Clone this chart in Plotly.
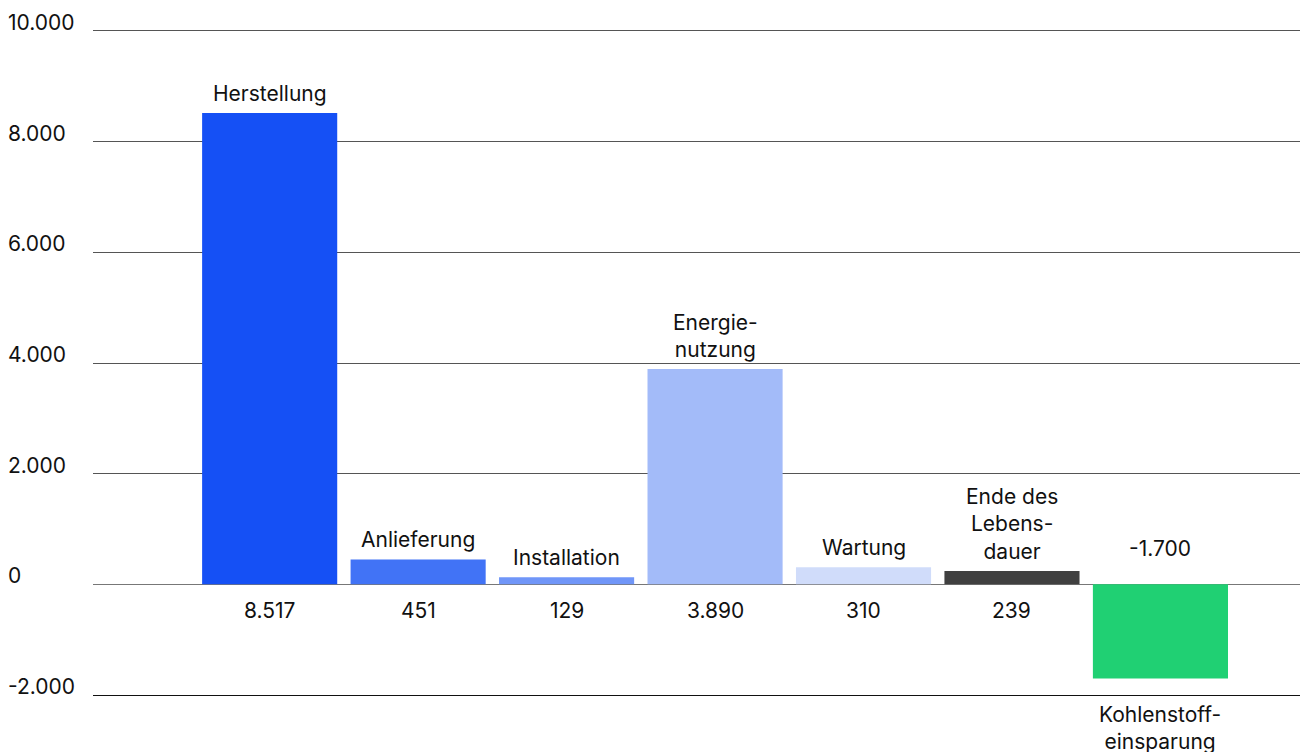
import plotly.graph_objects as go

categories = ["Herstellung", "Anlieferung", "Installation", "Energie-<br>nutzung",
              "Wartung", "Ende des<br>Lebens-<br>dauer", "Kohlenstoff-<br>einsparung"]
values = [8517, 451, 129, 3890, 310, 239, -1700]
colors = ["#1550F5", "#4173F6", "#7096F8", "#A3BBF9", "#D0DCFA", "#404040", "#20D073"]
tick_vals = [-2000, 0, 2000, 4000, 6000, 8000, 10000]
tick_labels = ["-2.000", "0", "2.000", "4.000", "6.000", "8.000", "10.000"]

FONT = "Inter"
FS = 21

def de(n):
    return f"{n:,}".replace(",", ".")

x = list(range(len(categories)))
fig = go.Figure(go.Bar(x=x, y=values, marker=dict(color=colors, line=dict(width=0)),
                       width=0.91, hoverinfo="skip"))

ann = []
for i, (c, v) in enumerate(zip(categories, values)):
    if v >= 0:
        ann.append(dict(x=i, y=v, text=c, showarrow=False, yanchor="bottom", yshift=5))
        ann.append(dict(x=i, y=0, text=de(v), showarrow=False, yanchor="top", yshift=-12))
    else:
        ann.append(dict(x=i, y=v, text=c, showarrow=False, yanchor="top", yshift=-22))
        ann.append(dict(x=i, y=0, text=de(v), showarrow=False, yanchor="bottom", yshift=21))
for tv, tl in zip(tick_vals, tick_labels):
    ann.append(dict(xref="paper", x=-87 / 1207, y=tv, text=tl, showarrow=False,
                    xanchor="left", yanchor="bottom", yshift=-6))
for a in ann:
    a.setdefault("font", dict(family=FONT, size=FS, color="#111"))

fig.update_layout(
    width=1300, height=752,
    margin=dict(l=93, r=0, t=29, b=57),
    paper_bgcolor="white", plot_bgcolor="white",
    showlegend=False,
    annotations=ann,
    font=dict(family=FONT, size=FS, color="#111"),
    xaxis=dict(range=[-1.19, 6.94], showticklabels=False, showgrid=False,
               zeroline=False, showline=True, linecolor="#111", linewidth=1,
               fixedrange=True),
    yaxis=dict(range=[-2000, 10036], tickvals=tick_vals, showticklabels=False,
               showgrid=True, gridcolor="#555", gridwidth=1,
               zeroline=True, zerolinecolor="#777", zerolinewidth=1,
               showline=False, fixedrange=True),
)
fig.write_html("out.html", config={"displayModeBar": False},
               post_script="document.body.style.margin='0';document.body.style.overflow='hidden';")
